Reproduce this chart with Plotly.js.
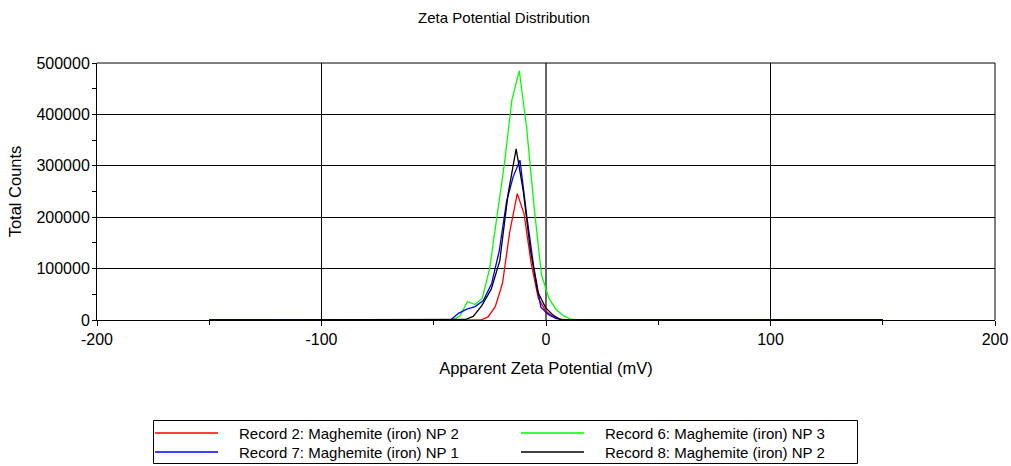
<!DOCTYPE html>
<html>
<head>
<meta charset="utf-8">
<script src="https://cdn.plot.ly/plotly-3.0.1.min.js"></script>
<style>html,body{margin:0;padding:0;background:#fff;}#chart{width:1011px;height:466px;}</style>
</head>
<body>
<div id="chart"></div>
<script>
// Series data (Apparent Zeta Potential in mV, Total Counts)
const names = [
  "Record 2: Maghemite (iron) NP 2",
  "Record 6: Maghemite (iron) NP 3",
  "Record 7: Maghemite (iron) NP 1",
  "Record 8: Maghemite (iron) NP 2"
];
const colors = ["#ff0000", "#00ff00", "#0000ff", "#000000"];

const redX = [-150, -32.2, -29.0, -25.8, -22.6, -19.4, -16.2, -12.8, -9.8, -6.6, -3.4, -0.2, 3.0, 6.2, 9.4, 150];
const redY = [0, 0, 0, 6000, 26000, 71000, 170000, 246000, 207000, 110000, 42000, 18000, 7000, 1500, 0, 0];

const greenX = [-150, -44.9, -41.6, -38.3, -35.0, -31.7, -28.4, -25.1, -21.8, -18.5, -15.2, -11.9, -8.6, -5.3, -2.0, 1.3, 4.6, 7.9, 11.2, 14.5, 150];
const greenY = [0, 0, 0, 8000, 36000, 30000, 42000, 100000, 200000, 305000, 428000, 485000, 373000, 220000, 88000, 42000, 20000, 8000, 1500, 0, 0];

const blueX = [-150, -42.5, -39.0, -35.3, -31.6, -27.9, -24.2, -20.8, -17.6, -14.6, -11.6, -8.5, -5.5, -2.3, 1.0, 4.3, 7.6, 150];
const blueY = [0, 0, 13000, 21000, 26000, 38000, 71000, 135000, 230000, 279000, 311000, 200000, 105000, 25000, 11000, 3000, 0, 0];

const blackX = [-150, -39.5, -36.0, -32.4, -28.6, -24.4, -20.6, -16.9, -13.3, -10.1, -6.9, -3.7, -0.2, 3.3, 6.8, 150];
const blackY = [0, 0, 1000, 7000, 28000, 60000, 115000, 245000, 333000, 250000, 135000, 55000, 24000, 9000, 0, 0];

const xTicks = [-200, -100, 0, 100, 200];
const yTicks = [0, 100000, 200000, 300000, 400000, 500000];

const seriesX = [redX, greenX, blueX, blackX];
const seriesY = [redY, greenY, blueY, blackY];

const traces = names.map((n, i) => ({
  x: seriesX[i], y: seriesY[i], name: n, type: "scatter", mode: "lines",
  line: {color: colors[i], width: 1.3}, showlegend: false
}));

const fam = "Arial, 'Liberation Sans', sans-serif";
const tickFont = {family: fam, size: 16, color: "#000"};
const axTitleFont = {family: fam, size: 16.5, color: "#000"};
const legFont = {family: fam, size: 15, color: "#000"};

// plot area in pixels (for placing the hand-built legend box)
const M = {l: 97, r: 16, t: 63, b: 146};
const PW = 1011 - M.l - M.r, PH = 466 - M.t - M.b;
const px = v => (v - M.l) / PW;
const py = v => (466 - M.b - v) / PH;

// legend layout: two columns, two rows
const legCols = [{line0: 155, line1: 218, text: 237}, {line0: 521, line1: 584, text: 603}];
const legRows = [433, 452];

const shapes = [
  {type: "line", xref: "paper", yref: "paper", x0: 1, x1: 1, y0: 0, y1: 1, line: {color: "#000", width: 1}},
  {type: "line", xref: "paper", yref: "paper", x0: 0, x1: 1, y0: 1, y1: 1, line: {color: "#000", width: 1}},
  {type: "rect", xref: "paper", yref: "paper", x0: px(153.5), x1: px(857.5), y0: py(420.5), y1: py(463.5),
   line: {color: "#000", width: 1}, fillcolor: "rgba(0,0,0,0)"}
];
const annotations = [];
names.forEach((n, i) => {
  const c = legCols[i % 2], r = legRows[Math.floor(i / 2)];
  shapes.push({type: "line", xref: "paper", yref: "paper", x0: px(c.line0), x1: px(c.line1), y0: py(r), y1: py(r),
               line: {color: colors[i], width: 1.3}});
  annotations.push({text: n, xref: "paper", yref: "paper", x: px(c.text), y: py(r), xanchor: "left", yanchor: "middle",
                    showarrow: false, font: legFont, align: "left"});
});

const layout = {
  width: 1011, height: 466,
  margin: M,
  paper_bgcolor: "#fff", plot_bgcolor: "#fff",
  font: tickFont,
  showlegend: false,
  title: {text: "Zeta Potential Distribution", font: {family: fam, size: 15, color: "#000"},
          x: 504/1011, xanchor: "center", xref: "container", y: 1 - 18/466, yanchor: "middle", yref: "container"},
  xaxis: {
    range: [-200, 200], tickvals: xTicks, ticktext: xTicks.map(String),
    showgrid: true, gridcolor: "#000", gridwidth: 1,
    zeroline: true, zerolinecolor: "#666", zerolinewidth: 2,
    showline: true, linecolor: "#000", linewidth: 1, mirror: false,
    ticks: "outside", ticklen: 5, tickcolor: "#000",
    minor: {dtick: 50, tick0: -150, ticks: "outside", ticklen: 4, tickcolor: "#000", showgrid: false},
    tickfont: tickFont,
    title: {text: "Apparent Zeta Potential (mV)", font: axTitleFont, standoff: 15},
    fixedrange: true
  },
  yaxis: {
    range: [0, 500000], tickvals: yTicks, ticktext: yTicks.map(String),
    showgrid: true, gridcolor: "#000", gridwidth: 1,
    zeroline: false,
    showline: true, linecolor: "#000", linewidth: 1,
    ticks: "outside", ticklen: 3, tickcolor: "#000",
    minor: {dtick: 50000, tick0: 50000, ticks: "outside", ticklen: 4, tickcolor: "#000", showgrid: false},
    tickfont: tickFont,
    title: {text: "Total Counts", font: axTitleFont, standoff: 10},
    fixedrange: true
  },
  shapes: shapes,
  annotations: annotations
};

Plotly.newPlot("chart", traces, layout, {displayModeBar: false, staticPlot: true});
</script>
</body>
</html>
